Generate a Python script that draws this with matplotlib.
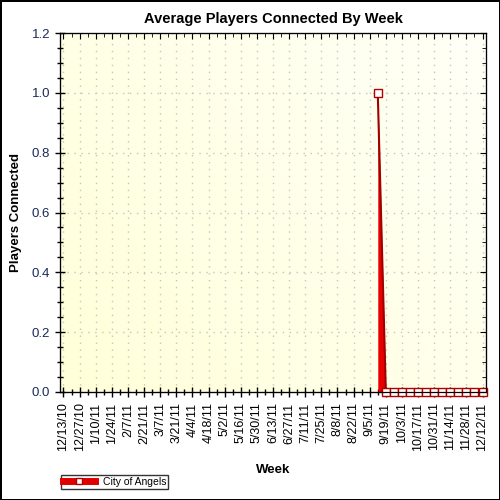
import numpy as np
import pandas as pd
import matplotlib
matplotlib.use("Agg")
import matplotlib.pyplot as plt
from matplotlib.lines import Line2D
from matplotlib.ticker import MultipleLocator

plt.rcParams['font.family'] = ['Liberation Sans', 'DejaVu Sans']

# axis labels every two weeks
tick_labels = ["12/13/10", "12/27/10", "1/10/11", "1/24/11", "2/7/11", "2/21/11",
               "3/7/11", "3/21/11", "4/4/11", "4/18/11", "5/2/11", "5/16/11",
               "5/30/11", "6/13/11", "6/27/11", "7/11/11", "7/25/11", "8/8/11",
               "8/22/11", "9/5/11", "9/19/11", "10/3/11", "10/17/11", "10/31/11",
               "11/14/11", "11/28/11", "12/12/11"]

# weeks with data
data_weeks = ["9/12/11", "9/19/11", "9/26/11", "10/3/11", "10/10/11", "10/17/11",
              "10/24/11", "10/31/11", "11/7/11", "11/14/11", "11/21/11",
              "11/28/11", "12/5/11", "12/12/11"]
players = [1.0, 0, 0, 0, 0, 0, 0, 0, 0, 0, 0, 0, 0, 0]

tick_dates = pd.to_datetime(tick_labels, format="%m/%d/%y")
x = pd.to_datetime(data_weeks, format="%m/%d/%y")

fig = plt.figure(figsize=(5, 5), dpi=100)
fig.patch.set_edgecolor("black")
fig.patch.set_linewidth(2)
ax = fig.add_axes([0.12, 0.216, 0.852, 0.718])

left = tick_dates[0] - pd.Timedelta(days=3)
right = tick_dates[-1] + pd.Timedelta(days=3)
ax.set_xlim(left, right)
ax.set_ylim(0, 1.2)

# soft yellow gradient background
gx, gy = np.meshgrid(np.linspace(0, 1, 100), np.linspace(0, 1, 100))
g = (gx * 0.6 + gy * 0.4)
c0 = np.array([1.0, 1.0, 0.85])
c1 = np.array([1.0, 1.0, 0.97])
img = c0 + (c1 - c0) * g[..., None]
ax.imshow(img, extent=[0, 1, 0, 1], transform=ax.transAxes, origin="lower",
          aspect="auto", zorder=0)

ax.fill_between(x, players, 0, color="#e80000", zorder=2, linewidth=0)
ax.plot(x, players, color="#a00000", lw=1.5, zorder=3)
ax.plot(x, players, ls="none", marker="s", ms=5.5, mfc="white", mec="#b00000",
        mew=1, zorder=4, clip_on=False)

ax.set_xticks(tick_dates)
ax.set_xticklabels(tick_labels, rotation=90, fontsize=9)
minor = tick_dates[:-1] + pd.Timedelta(days=7)
ax.set_xticks(minor, minor=True)
ax.yaxis.set_major_locator(MultipleLocator(0.2))
ax.yaxis.set_minor_locator(MultipleLocator(0.05))
ax.set_yticklabels([f"{v:.1f}" for v in ax.get_yticks()], color="#1a2a5a", fontsize=9.5)

ax.tick_params(axis="both", which="major", length=7, width=1)
ax.tick_params(axis="both", which="minor", length=4, width=1)
ax.tick_params(axis="x", which="both", direction="inout", top=False)
ax.tick_params(axis="y", which="both", direction="inout", right=False)
ax.tick_params(axis="x", which="major", pad=4)

# inward ticks on top and right
ax2 = ax.twinx()
ax2.set_ylim(0, 1.2)
ax2.yaxis.set_major_locator(MultipleLocator(0.2))
ax2.yaxis.set_minor_locator(MultipleLocator(0.05))
ax2.tick_params(axis="y", which="major", direction="in", length=4, labelright=False)
ax2.tick_params(axis="y", which="minor", direction="in", length=3)
ax3 = ax.twiny()
ax3.set_xlim(left, right)
ax3.set_xticks(tick_dates)
ax3.set_xticks(minor, minor=True)
ax3.tick_params(axis="x", which="major", direction="in", length=4, labeltop=False)
ax3.tick_params(axis="x", which="minor", direction="in", length=3)

ax.grid(True, which="major", color="#c4c4c4", ls=(0, (1, 4)), lw=1, zorder=1)

ax.set_title("Average Players Connected By Week", fontsize=10.5, fontweight="bold", pad=7)
ax.set_xlabel("Week", fontsize=9.5, fontweight="bold", labelpad=9)
ax.set_ylabel("Players Connected", fontsize=9.5, fontweight="bold", labelpad=7)

handle = Line2D([], [], color="#e00000", lw=5, marker="s", ms=5, mfc="white",
                mec="#b00000")
leg = fig.legend([handle], ["City of Angels"], loc="lower left",
                 bbox_to_anchor=(0.112, 0.012), fontsize=7.5, frameon=True,
                 fancybox=False, edgecolor="black", borderpad=0.2,
                 handlelength=3)
leg.get_frame().set_linewidth(1)

fig.savefig("out.png", dpi=100, edgecolor=fig.get_edgecolor())
